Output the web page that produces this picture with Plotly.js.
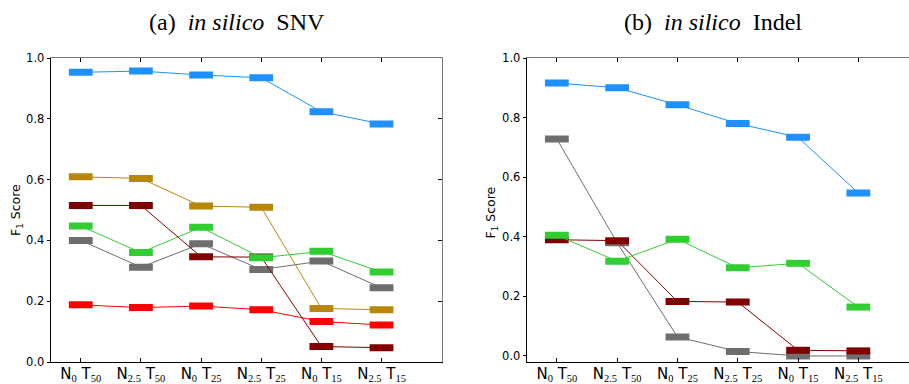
<!DOCTYPE html>
<html>
<head>
<meta charset="utf-8">
<script src="https://cdn.plot.ly/plotly-3.0.1.min.js"></script>
<style>html,body{margin:0;padding:0;background:#fff;}#chart{width:909px;height:384px;}</style>
</head>
<body>
<div id="chart"></div>
<script>
// Categories (x tick labels)
var subFont = 'Liberation Serif';
function lab(n, t) {
  return 'N<sub><span style="font-family:' + subFont + '">' + n + '</span></sub> T<sub><span style="font-family:' + subFont + '">' + t + '</span></sub>';
}
var categories = [0, 1, 2, 3, 4, 5];
var tickLabels = [lab('0','50'), lab('2.5','50'), lab('0','25'), lab('2.5','25'), lab('0','15'), lab('2.5','15')];

// (a) in silico SNV
var snvBlue   = [0.953, 0.957, 0.944, 0.935, 0.823, 0.783];
var snvGold   = [0.609, 0.604, 0.513, 0.509, 0.176, 0.172];
var snvDarkred= [0.515, 0.515, 0.346, 0.345, 0.051, 0.047];
var snvGreen  = [0.447, 0.360, 0.443, 0.343, 0.364, 0.296];
var snvGray   = [0.400, 0.312, 0.389, 0.304, 0.332, 0.244];
var snvRed    = [0.188, 0.179, 0.184, 0.172, 0.133, 0.122];

// (b) in silico Indel
var indBlue   = [0.916, 0.900, 0.843, 0.780, 0.734, 0.547];
var indGray   = [0.728, 0.380, 0.064, 0.015, 0.000, 0.000];
var indGreen  = [0.405, 0.318, 0.392, 0.296, 0.311, 0.164];
var indDarkred= [0.390, 0.387, 0.183, 0.181, 0.019, 0.017];

var C = {blue:'#1E90FF', gold:'#B8860B', darkred:'#800000', green:'#32CD32', gray:'#6E6E6E', red:'#FF0000'};

function tr(y, color, xa, ya) {
  return {
    x: categories, y: y, xaxis: xa, yaxis: ya, type: 'scatter', mode: 'lines+markers',
    line: {color: color, width: 1},
    marker: {symbol: 'line-ew', size: 17, color: color, line: {color: color, width: 7}},
    showlegend: false, hoverinfo: 'skip'
  };
}

var data = [
  tr(snvGray, C.gray, 'x', 'y'),
  tr(snvDarkred, C.darkred, 'x', 'y'),
  tr(snvGreen, C.green, 'x', 'y'),
  tr(snvRed, C.red, 'x', 'y'),
  tr(snvGold, C.gold, 'x', 'y'),
  tr(snvBlue, C.blue, 'x', 'y'),
  tr(indGray, C.gray, 'x2', 'y2'),
  tr(indDarkred, C.darkred, 'x2', 'y2'),
  tr(indGreen, C.green, 'x2', 'y2'),
  tr(indBlue, C.blue, 'x2', 'y2'),
  {x:[null], y:[null], xaxis:'x3', yaxis:'y', showlegend:false, hoverinfo:'skip', mode:'markers'},
  {x:[null], y:[null], xaxis:'x', yaxis:'y3', showlegend:false, hoverinfo:'skip', mode:'markers'},
  {x:[null], y:[null], xaxis:'x4', yaxis:'y2', showlegend:false, hoverinfo:'skip', mode:'markers'}
];

var tickFont = {family: 'DejaVu Sans', size: 15, color: '#000'};
var yFont = {family: 'DejaVu Sans', size: 11.5, color: '#000'};
var dom1 = [50.7/909, 441.7/909];
var dom2 = [526.7/909, 1];
var xr1 = [-0.5, 6];
var xr2 = [-0.5, 5.84];
var yr1 = [0, 1];
var yr2 = [-0.0203, 1];

function xbase(dom, range, anchor) {
  return {domain: dom, range: range, anchor: anchor, tickmode: 'array', tickvals: categories, ticktext: tickLabels,
    ticks: 'inside', ticklen: 4, tickcolor: '#000', tickwidth: 1, showline: true, linecolor: '#000', linewidth: 1,
    showgrid: false, zeroline: false, tickfont: tickFont, fixedrange: true, ticklabelstandoff: -2};
}
function ybase(range, anchor) {
  return {domain: [0, 1], range: range, anchor: anchor, tickmode: 'array', tickvals: [0, 0.2, 0.4, 0.6, 0.8, 1.0],
    ticktext: ['0.0', '0.2', '0.4', '0.6', '0.8', '1.0'],
    ticks: 'outside', ticklen: 3, tickcolor: '#000', tickwidth: 1, showline: true, linecolor: '#000', linewidth: 1,
    showgrid: false, zeroline: false, tickfont: yFont, fixedrange: true};
}

var layout = {
  width: 909, height: 384,
  margin: {l: 0, r: 0, t: 58, b: 22},
  paper_bgcolor: '#fff', plot_bgcolor: '#fff',
  showlegend: false,
  xaxis: xbase(dom1, xr1, 'y'),
  yaxis: ybase(yr1, 'x'),
  xaxis2: xbase(dom2, xr2, 'y2'),
  yaxis2: ybase(yr2, 'x2'),
  xaxis3: {overlaying: 'x', side: 'top', anchor: 'y', range: xr1, tickmode: 'array', tickvals: categories,
    ticks: 'inside', ticklen: 4, tickcolor: '#000', showticklabels: false, showline: true, linecolor: '#7a7a7a',
    linewidth: 1.5, showgrid: false, zeroline: false, fixedrange: true},
  yaxis3: {overlaying: 'y', side: 'right', anchor: 'x', range: yr1, tickmode: 'array', tickvals: [0, 0.2, 0.4, 0.6, 0.8, 1.0],
    ticks: 'inside', ticklen: 4, tickcolor: '#000', showticklabels: false, showline: true, linecolor: '#7a7a7a',
    linewidth: 1.5, showgrid: false, zeroline: false, fixedrange: true},
  xaxis4: {overlaying: 'x2', side: 'top', anchor: 'y2', range: xr2, tickmode: 'array', tickvals: categories,
    ticks: 'inside', ticklen: 4, tickcolor: '#000', showticklabels: false, showline: true, linecolor: '#7a7a7a',
    linewidth: 1.5, showgrid: false, zeroline: false, fixedrange: true},
  annotations: [
    {xref: 'paper', yref: 'paper', x: 237/909, y: (362-22)/304, xanchor: 'center', yanchor: 'middle', showarrow: false,
     text: '(a)&nbsp; <i>in silico</i>&nbsp; SNV', font: {family: 'Liberation Serif', size: 24, color: '#000'}},
    {xref: 'paper', yref: 'paper', x: 712.5/909, y: (362-22)/304, xanchor: 'center', yanchor: 'middle', showarrow: false,
     text: '(b)&nbsp; <i>in silico</i>&nbsp; Indel', font: {family: 'Liberation Serif', size: 24, color: '#000'}},
    {xref: 'paper', yref: 'paper', x: 16/909, y: 0.5, xanchor: 'center', yanchor: 'middle', showarrow: false, textangle: -90,
     text: 'F<sub>1</sub> Score', font: {family: 'DejaVu Sans', size: 12.5, color: '#000'}},
    {xref: 'paper', yref: 'paper', x: 491.5/909, y: 0.49, xanchor: 'center', yanchor: 'middle', showarrow: false, textangle: -90,
     text: 'F<sub>1</sub> Score', font: {family: 'DejaVu Sans', size: 12.5, color: '#000'}}
  ]
};

Plotly.newPlot('chart', data, layout, {staticPlot: true, displayModeBar: false});
</script>
</body>
</html>
